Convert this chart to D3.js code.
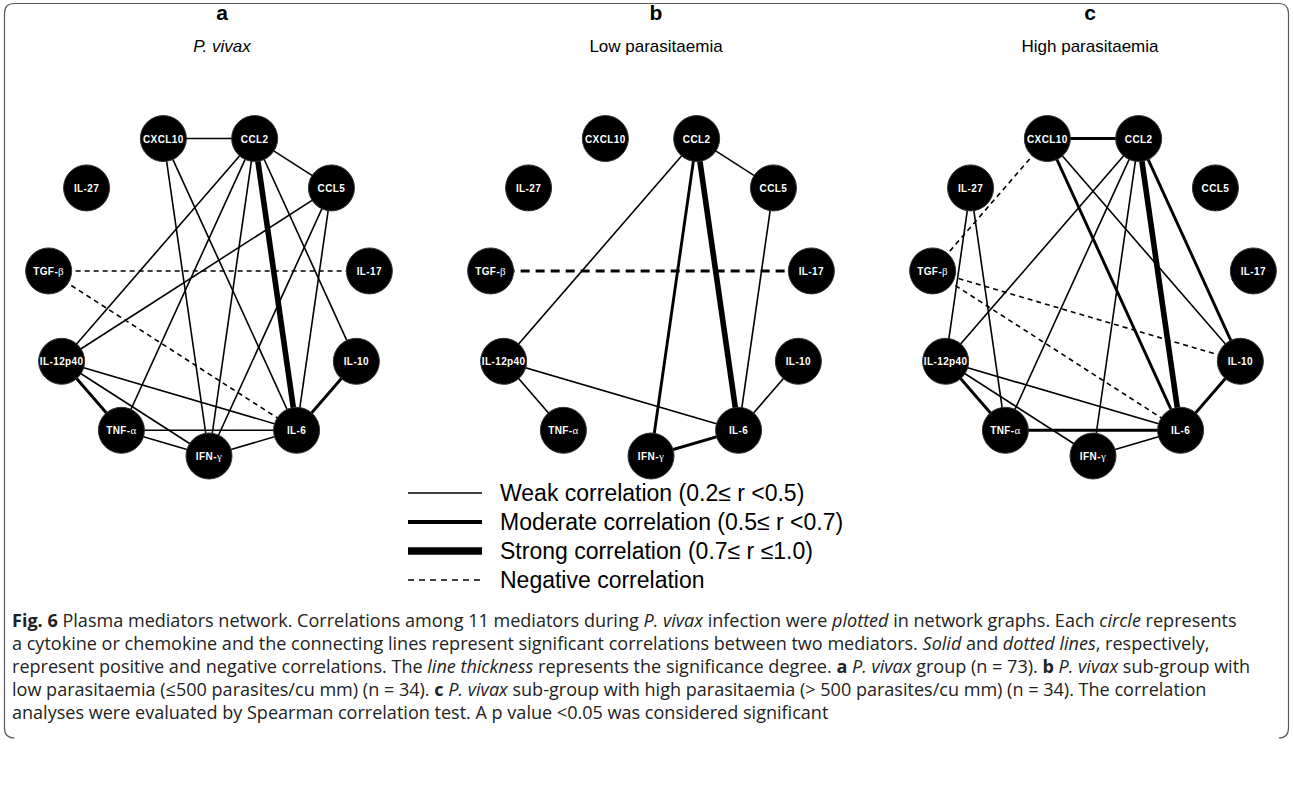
<!DOCTYPE html>
<html>
<head>
<meta charset="utf-8">
<script src="https://cdn.jsdelivr.net/npm/d3@7/dist/d3.min.js"></script>
<style>
  html, body { margin: 0; padding: 0; background: #fff; }
  svg { display: block; }
</style>
</head>
<body>
<svg id="fig" width="1293" height="801"></svg>
<script>
// Mediators, in clockwise order around the ring starting from the bottom
const mediators = ["IFN-γ", "TNF-α", "IL-12p40", "TGF-β", "IL-27", "CXCL10", "CCL2", "CCL5", "IL-17", "IL-10", "IL-6"];

// Panel headings
const panelLetters = ["a", "b", "c"];
const panelTitles = ["P. vivax", "Low parasitaemia", "High parasitaemia"];

// Significant correlations: [mediator, mediator, strength class, sign]
const edgesVivax = [
  ["CXCL10", "CCL2", "weak", 1],
  ["CXCL10", "IFN-γ", "weak", 1],
  ["CXCL10", "IL-6", "weak", 1],
  ["CCL2", "CCL5", "weak", 1],
  ["CCL2", "IL-12p40", "weak", 1],
  ["CCL2", "TNF-α", "weak", 1],
  ["CCL2", "IFN-γ", "weak", 1],
  ["CCL2", "IL-10", "weak", 1],
  ["CCL2", "IL-6", "strong", 1],
  ["CCL5", "IL-12p40", "weak", 1],
  ["CCL5", "IFN-γ", "weak", 1],
  ["CCL5", "IL-6", "weak", 1],
  ["IL-12p40", "TNF-α", "moderate", 1],
  ["IL-12p40", "IFN-γ", "weak", 1],
  ["IL-12p40", "IL-6", "weak", 1],
  ["TNF-α", "IL-6", "weak", 1],
  ["TNF-α", "IFN-γ", "weak", 1],
  ["IFN-γ", "IL-6", "weak", 1],
  ["IL-10", "IL-6", "moderate", 1],
  ["TGF-β", "IL-17", "weak", -1],
  ["TGF-β", "IL-6", "weak", -1]
];

const edgesLow = [
  ["CCL2", "CCL5", "weak", 1],
  ["CCL2", "IL-12p40", "weak", 1],
  ["CCL2", "IFN-γ", "moderate", 1],
  ["CCL2", "IL-6", "strong", 1],
  ["CCL5", "IL-6", "weak", 1],
  ["IL-12p40", "TNF-α", "weak", 1],
  ["IL-12p40", "IL-6", "weak", 1],
  ["IL-10", "IL-6", "weak", 1],
  ["IFN-γ", "IL-6", "moderate", 1],
  ["TGF-β", "IL-17", "moderate", -1]
];

const edgesHigh = [
  ["CXCL10", "CCL2", "moderate", 1],
  ["CXCL10", "IL-6", "moderate", 1],
  ["CXCL10", "IL-10", "weak", 1],
  ["CXCL10", "TGF-β", "weak", -1],
  ["CCL2", "IL-12p40", "weak", 1],
  ["CCL2", "TNF-α", "weak", 1],
  ["CCL2", "IFN-γ", "weak", 1],
  ["CCL2", "IL-6", "strong", 1],
  ["CCL2", "IL-10", "moderate", 1],
  ["IL-27", "IL-12p40", "weak", 1],
  ["IL-27", "TNF-α", "weak", 1],
  ["TGF-β", "IL-10", "weak", -1],
  ["TGF-β", "IL-6", "weak", -1],
  ["IL-12p40", "TNF-α", "moderate", 1],
  ["IL-12p40", "IFN-γ", "weak", 1],
  ["IL-12p40", "IL-6", "weak", 1],
  ["TNF-α", "IL-6", "moderate", 1],
  ["IFN-γ", "IL-6", "weak", 1],
  ["IL-10", "IL-6", "moderate", 1]
];

const panelEdges = [edgesVivax, edgesLow, edgesHigh];

// Legend entries
const legendLabels = [
  "Weak correlation (0.2≤ r <0.5)",
  "Moderate correlation (0.5≤ r <0.7)",
  "Strong correlation (0.7≤ r ≤1.0)",
  "Negative correlation"
];

// Caption, one array of [text, style] runs per line
const captionLines = [
  [["Fig. 6", "b"], ["  Plasma mediators network. Correlations among 11 mediators during ", ""], ["P. vivax", "i"], [" infection were ", ""], ["plotted", "i"], [" in network graphs. Each ", ""], ["circle", "i"], [" represents", ""]],
  [["a cytokine or chemokine and the connecting lines represent significant correlations between two mediators. ", ""], ["Solid", "i"], [" and ", ""], ["dotted lines", "i"], [", respectively,", ""]],
  [["represent positive and negative correlations. The ", ""], ["line thickness", "i"], [" represents the significance degree. ", ""], ["a", "b"], [" ", ""], ["P. vivax", "i"], [" group (n = 73). ", ""], ["b", "b"], [" ", ""], ["P. vivax", "i"], [" sub-group with", ""]],
  [["low parasitaemia (≤500 parasites/cu mm) (n = 34). ", ""], ["c", "b"], [" ", ""], ["P. vivax", "i"], [" sub-group with high parasitaemia (> 500 parasites/cu mm) (n = 34). The correlation", ""]],
  [["analyses were evaluated by Spearman correlation test. A p value <0.05 was considered significant", ""]]
];

// ---- layout ----
const svg = d3.select("#fig");
const W = 1293, H = 801;
svg.append("rect").attr("width", W).attr("height", H).attr("fill", "#fff");

// figure frame with rounded corners
svg.append("path")
  .attr("d", "M4.5,728 Q4.5,738 14.5,738 M4.5,728 V13.5 Q4.5,3.5 14.5,3.5 H1278.5 Q1288.5,3.5 1288.5,13.5 V728 Q1288.5,738 1278.5,738")
  .attr("fill", "none").attr("stroke", "#5a5a5a").attr("stroke-width", 1.2);

const panelX = d3.scalePoint().domain(panelLetters).range([209, 1093]);
const titleX = d3.scalePoint().domain(panelLetters).range([222, 1090]);
const ringCY = 294, ringR = 162, nodeR = 23;

// angular position of each mediator on the ring (clockwise from the bottom)
const angle = d3.scaleLinear().domain([0, mediators.length]).range([Math.PI / 2, Math.PI / 2 + 2 * Math.PI]);

const strokeW = d3.scaleOrdinal().domain(["weak", "moderate", "strong"]).range([1.6, 2.9, 5.6]);
const dashFor = d3.scaleOrdinal().domain(["weak", "moderate", "strong"]).range(["5,4", "9,6", "10,6"]);

const greek = /[αβγ]/;

panelLetters.forEach((letter, pi) => {
  const cx = panelX(letter);
  const g = svg.append("g");

  // headings
  svg.append("text").attr("x", titleX(letter)).attr("y", 20)
    .attr("text-anchor", "middle")
    .style("font-family", "'Liberation Sans', Arial, sans-serif")
    .style("font-weight", "bold").style("font-size", "21px")
    .text(letter);
  svg.append("text").attr("x", titleX(letter)).attr("y", 52)
    .attr("text-anchor", "middle")
    .style("font-family", "'Liberation Sans', Arial, sans-serif")
    .style("font-size", "17px")
    .style("font-style", pi === 0 ? "italic" : "normal")
    .text(panelTitles[pi]);

  const pos = {};
  mediators.forEach((m, i) => {
    const a = angle(i);
    pos[m] = [cx + ringR * Math.cos(a), ringCY + ringR * Math.sin(a)];
  });

  // correlation lines
  g.selectAll("line.edge").data(panelEdges[pi]).join("line")
    .attr("class", "edge")
    .attr("x1", d => pos[d[0]][0]).attr("y1", d => pos[d[0]][1])
    .attr("x2", d => pos[d[1]][0]).attr("y2", d => pos[d[1]][1])
    .attr("stroke", "#000")
    .attr("stroke-width", d => strokeW(d[2]))
    .attr("stroke-dasharray", d => d[3] < 0 ? dashFor(d[2]) : null);

  // mediator nodes
  const nodes = g.selectAll("g.node").data(mediators).join("g")
    .attr("class", "node")
    .attr("transform", m => `translate(${pos[m][0]},${pos[m][1]})`);
  nodes.append("circle").attr("r", nodeR).attr("fill", "#000")
    .attr("stroke", "#333").attr("stroke-width", 1);
  nodes.each(function (m) {
    const t = d3.select(this).append("text")
      .attr("y", 4).attr("text-anchor", "middle").attr("fill", "#fff")
      .style("font-family", "'Liberation Sans', Arial, sans-serif")
      .style("font-weight", "bold").style("font-size", "10px")
      .style("letter-spacing", "0.4px");
    const last = m.slice(-1);
    if (greek.test(last)) {
      t.append("tspan").text(m.slice(0, -1));
      t.append("tspan").style("font-family", "'Liberation Serif', serif")
        .style("font-weight", "normal").style("font-size", "11px").text(last);
    } else {
      t.text(m);
    }
  });
});

// ---- legend ----
const legendY = d3.scalePoint().domain(legendLabels).range([493, 580]);
const legendW = [1.6, 4, 7.5, 1.6];
const legend = svg.append("g");
legendLabels.forEach((lab, i) => {
  const y = legendY(lab);
  legend.append("line")
    .attr("x1", 408).attr("x2", 482).attr("y1", y).attr("y2", y)
    .attr("stroke", "#000").attr("stroke-width", legendW[i])
    .attr("stroke-dasharray", i === 3 ? "6,5" : null);
  legend.append("text").attr("x", 500).attr("y", y + 8)
    .style("font-family", "'Liberation Sans', Arial, sans-serif")
    .style("font-size", "23px")
    .text(lab);
});

// ---- caption ----
const capY = d3.scalePoint().domain(d3.range(captionLines.length)).range([627, 719]);
const capFont = "'Open Sans', 'Noto Sans', sans-serif";
const capTexts = captionLines.map((runs, li) => {
  const t = svg.append("text").attr("x", 12).attr("y", capY(li))
    .style("font-family", capFont).style("font-size", "15px").attr("fill", "#222");
  runs.forEach(([s, st]) => {
    const ts = t.append("tspan").text(s);
    if (st === "b") ts.style("font-weight", "bold");
    if (st === "i") ts.style("font-style", "italic");
  });
  return t;
});
// size the caption so the first line spans the frame width
const natural = capTexts[0].node().getComputedTextLength();
const fs = 15 * 1226 / natural;
capTexts.forEach(t => t.style("font-size", fs + "px"));
</script>
</body>
</html>
